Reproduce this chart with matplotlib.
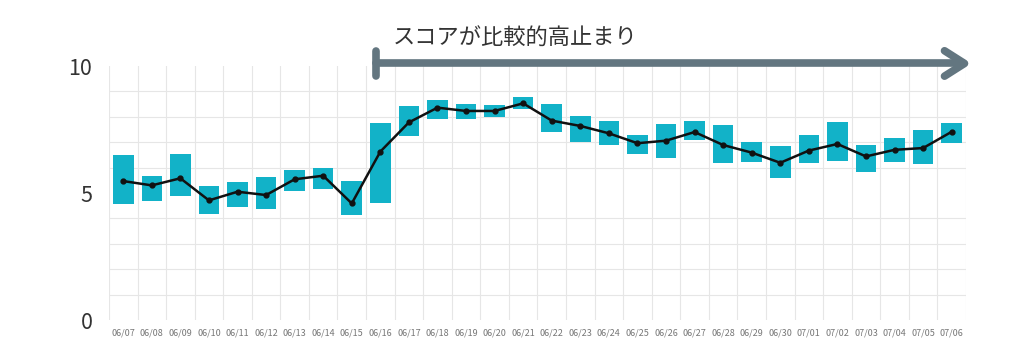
import matplotlib
matplotlib.use("Agg")
import matplotlib.pyplot as plt
import numpy as np

plt.rcParams["font.family"] = ["Noto Sans CJK JP", "DejaVu Sans"]

dates = [
    "06/07", "06/08", "06/09", "06/10", "06/11", "06/12", "06/13", "06/14", "06/15", "06/16",
    "06/17", "06/18", "06/19", "06/20", "06/21", "06/22", "06/23", "06/24", "06/25", "06/26",
    "06/27", "06/28", "06/29", "06/30", "07/01", "07/02", "07/03", "07/04", "07/05", "07/06",
]
score_high = [
    6.48, 5.67, 6.52, 5.29, 5.45, 5.63, 5.89, 5.98, 5.46, 7.77,
    8.44, 8.66, 8.50, 8.46, 8.79, 8.50, 8.03, 7.83, 7.27, 7.70,
    7.85, 7.68, 7.00, 6.86, 7.30, 7.78, 6.88, 7.17, 7.49, 7.74,
]
score_low = [
    4.55, 4.69, 4.90, 4.17, 4.43, 4.37, 5.09, 5.16, 4.15, 4.62,
    7.24, 7.93, 7.93, 7.98, 8.29, 7.39, 7.01, 6.89, 6.54, 6.38,
    7.09, 6.17, 6.23, 5.58, 6.19, 6.27, 5.83, 6.22, 6.14, 6.97,
]
score_mean = [
    5.47, 5.30, 5.58, 4.71, 5.05, 4.92, 5.54, 5.68, 4.59, 6.63,
    7.78, 8.36, 8.23, 8.23, 8.53, 7.85, 7.64, 7.35, 6.96, 7.06,
    7.40, 6.89, 6.59, 6.19, 6.67, 6.93, 6.44, 6.70, 6.77, 7.41,
]
note_text = "スコアが比較的高止まり"
note_start = "06/16"

fig = plt.figure(figsize=(10.24, 3.56), dpi=100)
ax = fig.add_axes([0.1064, 0.1011, 0.8369, 0.7135])

x = np.arange(len(dates))
high = np.array(score_high)
low = np.array(score_low)
ax.bar(x, high - low, bottom=low, width=0.72, color="#12b2c8", zorder=2)
ax.plot(x, score_mean, color="#111111", linewidth=1.8, marker="o", markersize=3.5, zorder=3)

ax.set_xlim(-0.5, len(dates) - 0.5)
ax.set_ylim(0, 10)
ax.set_yticks([0, 5, 10])
ax.set_yticks(np.arange(0, 11), minor=True)
ax.set_xticks(x)
ax.set_xticklabels(dates)
ax.set_xticks(np.arange(-0.5, len(dates)), minor=True)
ax.grid(which="minor", color="#e6e6e6", linewidth=0.8, zorder=0)
ax.grid(which="major", visible=False)
ax.set_axisbelow(True)
for s in ax.spines.values():
    s.set_visible(False)
ax.tick_params(axis="both", which="both", length=0)
ax.tick_params(axis="x", labelsize=6.5, labelcolor="#777777", pad=6)
ax.tick_params(axis="y", labelsize=15.5, labelcolor="#333333", pad=12)

# annotation arrow: bar at start, chevron at end
xs = dates.index(note_start) - 0.15
xe = len(dates) - 0.55
ya = 10.1
arrow_color = "#637680"
lw = 5.5
ax.plot([xs, xe - 0.05], [ya, ya], color=arrow_color, linewidth=lw,
        solid_capstyle="round", clip_on=False, zorder=4)
ax.plot([xs, xs], [ya - 0.5, ya + 0.5], color=arrow_color, linewidth=lw,
        solid_capstyle="round", clip_on=False, zorder=4)
ax.plot([xe - 0.7, xe, xe - 0.7], [ya + 0.5, ya, ya - 0.5], color=arrow_color, linewidth=lw,
        solid_capstyle="round", solid_joinstyle="round", clip_on=False, zorder=4)
ax.text(xs + 0.6, 11.08, note_text, fontsize=16, color="#333333", ha="left", va="center")

fig.savefig("out.png", dpi=100)
